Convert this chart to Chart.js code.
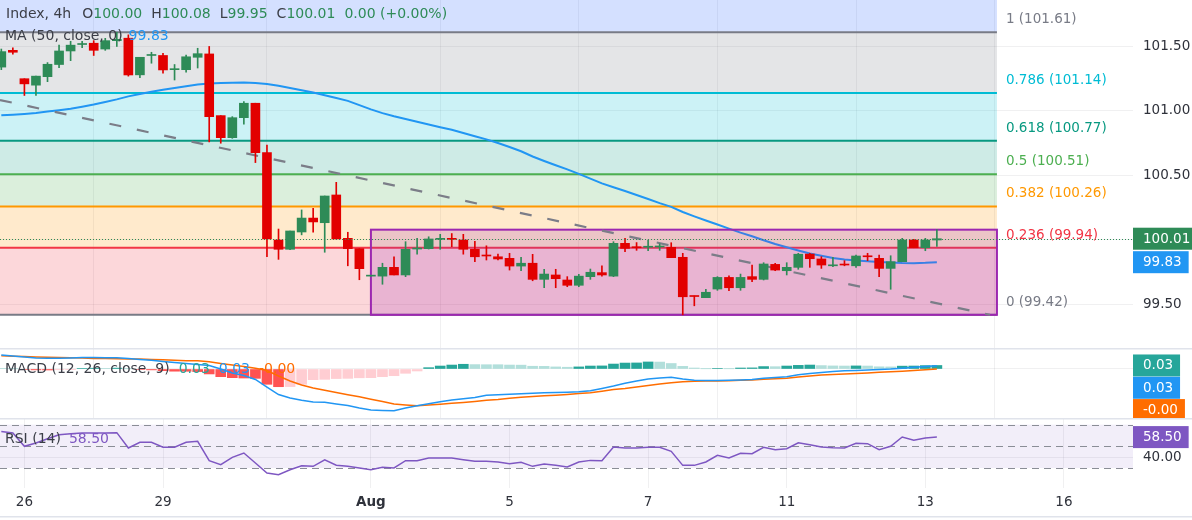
<!DOCTYPE html>
<html><head><meta charset="utf-8">
<script src="https://cdn.jsdelivr.net/npm/chart.js@4.4.1/dist/chart.umd.min.js"></script>
<style>
html,body{margin:0;padding:0;background:#fff;overflow:hidden;}
#wrap{position:relative;width:1192px;height:520px;background:#fff;}
canvas{position:absolute;left:0;}
</style></head><body>
<div id="wrap">
<canvas id="cPrice" width="1192" height="348" style="top:0;width:1192px;height:348px"></canvas>
<canvas id="cMacd" width="1192" height="70" style="top:348px;width:1192px;height:70px"></canvas>
<canvas id="cRsi" width="1192" height="102" style="top:418px;width:1192px;height:102px"></canvas>
</div>
<script>
// ---------------- DATA ----------------
const opens = [101.34,101.47,101.25,101.20,101.266,101.36,101.465,101.515,101.525,101.48,
101.545,101.564,101.28,101.43,101.43,101.32,101.32,101.416,101.442,100.964,
100.793,100.948,101.06,100.677,100.00,99.928,100.062,100.17,100.134,100.349,
100.013,99.933,99.72,99.72,99.788,99.729,99.93,99.933,100.005,100.01,
100.0,99.928,99.88,99.87,99.858,99.798,99.82,99.695,99.729,99.69,
99.649,99.716,99.747,99.72,99.974,99.945,99.944,99.946,99.943,99.866,
99.566,99.553,99.62,99.71,99.63,99.716,99.695,99.811,99.762,99.788,
99.891,99.853,99.80,99.808,99.80,99.873,99.858,99.78,99.832,100.0,
99.94,100.00];
const highs = [101.48,101.49,101.25,101.27,101.375,101.51,101.54,101.54,101.545,101.563,
101.61,101.59,101.416,101.455,101.447,101.36,101.434,101.486,101.50,100.964,
100.956,101.072,101.06,100.736,100.085,100.07,100.233,100.246,100.341,100.447,
100.06,99.933,99.722,99.82,99.87,99.987,100.013,100.025,100.044,100.05,
100.044,99.99,99.955,99.89,99.897,99.866,99.889,99.773,99.773,99.716,
99.734,99.775,99.80,99.987,100.013,99.98,100.0,99.97,99.979,99.897,
99.566,99.618,99.716,99.723,99.736,99.806,99.824,99.819,99.824,99.897,
99.897,99.871,99.866,99.84,99.884,99.897,99.884,99.878,100.013,100.005,
100.013,100.08];
const lows = [101.32,101.44,101.12,101.12,101.227,101.335,101.39,101.49,101.43,101.47,
101.50,101.27,101.258,101.37,101.292,101.24,101.30,101.333,100.76,100.75,
100.788,100.897,100.60,99.87,99.85,99.925,100.04,100.06,99.905,100.008,
99.80,99.692,99.72,99.657,99.729,99.716,99.89,99.93,99.928,99.948,
99.89,99.832,99.845,99.845,99.767,99.762,99.684,99.63,99.63,99.638,
99.638,99.695,99.72,99.716,99.91,99.92,99.917,99.92,99.863,99.42,
99.49,99.553,99.61,99.607,99.61,99.677,99.69,99.762,99.729,99.773,
99.788,99.78,99.793,99.80,99.788,99.84,99.716,99.618,99.832,99.94,
99.917,99.95];
const closes = [101.46,101.455,101.21,101.27,101.362,101.465,101.51,101.52,101.47,101.545,
101.555,101.279,101.416,101.435,101.318,101.325,101.42,101.444,100.956,100.793,
100.948,101.06,100.677,100.008,99.928,100.07,100.17,100.14,100.341,100.008,
99.933,99.778,99.722,99.788,99.729,99.928,99.935,100.008,100.008,100.005,
99.928,99.87,99.876,99.853,99.798,99.82,99.695,99.736,99.70,99.649,
99.72,99.75,99.729,99.974,99.935,99.94,99.95,99.949,99.863,99.56,
99.562,99.595,99.71,99.63,99.71,99.695,99.814,99.767,99.788,99.89,
99.855,99.806,99.803,99.806,99.876,99.87,99.78,99.832,100.0,99.94,
100.0,100.01];
const ma50 = [100.966,100.971,100.977,100.984,100.995,101.005,101.017,101.033,101.05,101.07,
101.09,101.113,101.132,101.149,101.164,101.178,101.192,101.205,101.212,101.217,
101.219,101.22,101.217,101.209,101.195,101.178,101.161,101.143,101.122,101.101,
101.078,101.045,101.012,100.983,100.959,100.938,100.917,100.895,100.874,100.854,
100.829,100.804,100.78,100.752,100.721,100.688,100.647,100.612,100.579,100.547,
100.512,100.476,100.439,100.409,100.38,100.349,100.318,100.286,100.257,100.217,
100.183,100.151,100.12,100.088,100.057,100.029,99.998,99.969,99.944,99.919,
99.896,99.878,99.86,99.849,99.842,99.836,99.83,99.826,99.822,99.82,
99.823,99.828];
const macdLine = [0.127,0.118,0.109,0.1,0.097,0.097,0.1,0.105,0.105,0.103,
0.103,0.095,0.086,0.079,0.068,0.059,0.05,0.041,0.032,0.0,
-0.036,-0.059,-0.095,-0.164,-0.232,-0.264,-0.285,-0.3,-0.303,-0.318,
-0.332,-0.355,-0.373,-0.377,-0.379,-0.355,-0.334,-0.315,-0.297,-0.282,
-0.271,-0.259,-0.239,-0.235,-0.229,-0.225,-0.22,-0.216,-0.214,-0.211,
-0.207,-0.198,-0.177,-0.155,-0.13,-0.109,-0.09,-0.082,-0.075,-0.091,
-0.103,-0.105,-0.105,-0.103,-0.1,-0.095,-0.085,-0.077,-0.07,-0.053,
-0.041,-0.032,-0.023,-0.016,-0.013,-0.009,-0.005,-0.001,0.007,0.015,
0.023,0.03];
const signalLine = [0.121,0.117,0.114,0.109,0.106,0.104,0.102,0.099,0.096,0.095,
0.093,0.092,0.09,0.086,0.083,0.08,0.076,0.074,0.065,0.05,
0.036,0.023,0.006,-0.014,-0.064,-0.109,-0.145,-0.173,-0.194,-0.214,
-0.234,-0.253,-0.275,-0.295,-0.318,-0.327,-0.334,-0.327,-0.32,-0.312,
-0.304,-0.295,-0.285,-0.277,-0.265,-0.256,-0.25,-0.244,-0.239,-0.232,
-0.223,-0.216,-0.202,-0.186,-0.177,-0.164,-0.15,-0.136,-0.125,-0.115,
-0.112,-0.11,-0.109,-0.106,-0.103,-0.1,-0.094,-0.088,-0.085,-0.073,
-0.064,-0.055,-0.05,-0.045,-0.041,-0.036,-0.03,-0.025,-0.02,-0.014,
-0.006,-0.001];
const macdHist = [0.006,0.002,-0.004,-0.008,-0.009,-0.007,-0.003,0.004,0.007,0.006,
0.008,0.002,-0.004,-0.008,-0.015,-0.02,-0.021,-0.024,-0.045,-0.07,
-0.079,-0.082,-0.085,-0.139,-0.161,-0.16,-0.139,-0.097,-0.094,-0.087,
-0.085,-0.08,-0.079,-0.07,-0.061,-0.039,-0.018,0.012,0.027,0.036,
0.043,0.04,0.039,0.039,0.036,0.035,0.025,0.024,0.019,0.016,
0.019,0.027,0.028,0.045,0.054,0.055,0.064,0.063,0.05,0.024,
0.009,0.002,0.004,0.002,0.009,0.01,0.022,0.021,0.027,0.033,
0.036,0.031,0.028,0.027,0.028,0.027,0.02,0.019,0.026,0.027,
0.031,0.032];
const rsi14 = [63.7,62.3,50.0,53.0,57.0,60.7,61.6,62.3,62.3,62.3,
62.6,48.4,53.7,53.7,49.1,49.1,53.7,54.6,36.7,33.0,
39.8,43.8,34.6,25.3,23.8,28.4,32.1,31.5,37.6,32.5,
31.5,30.0,28.4,30.6,30.0,36.7,36.7,39.2,39.2,39.2,
37.6,36.1,36.1,35.5,34.0,35.2,31.5,33.7,32.4,30.9,
35.5,37.0,36.7,49.4,48.4,48.4,49.1,49.1,45.4,32.4,
32.4,35.5,41.7,39.2,43.5,43.2,49.1,46.9,47.8,53.3,
51.5,49.4,48.7,48.4,52.8,52.4,46.9,50.0,58.6,55.5,
57.7,58.5];
const dayTickIdx = [2,14,32,44,56,68,80,92];
const dayTickLabels = ['26','29','Aug','5','7','11','13','16'];
const priceTicks = [101.5,101.0,100.5,100.0,99.5];
const rsiTicks = [40];
const rsiLevels = [70,50,30];
const fibRatios = [1.618,1,0.786,0.618,0.5,0.382,0.236,0];
const fibPrices = [102.96,101.61,101.14,100.77,100.51,100.26,99.94,99.42];
const headerText = 'Index, 4h';
const headerChange = '0.00 (+0.00%)';

// ---------------- DRAWING CONFIG ----------------
const FONT = "'DejaVu Sans', Verdana, sans-serif";
const xMin = -0.113, xMax = 97.98;
const fibFrom = -5, fibTo = 86.2;
const rectFrom = 32.0, rectTo = 86.2, rectHigh = 100.08, rectLow = 99.42;
const trendFrom = {x: -0.113, y: 101.085}, trendTo = {x: 85.6, y: 99.42};
const fibColors = ['#2962ff','#787b86','#00bcd4','#089981','#4caf50','#ff9800','#f23645','#787b86'];
const upColor = '#2e8b57', downColor = '#e20000';
const gridColor = 'rgba(42,46,57,0.07)';
const textColor = '#3b3e47';
const axisText = '#2f323b';

Chart.defaults.font.family = FONT;
Chart.defaults.font.size = 13.5;

const idx = opens.map((_, i) => i);
const candleColors = idx.map(i => closes[i] >= opens[i] ? upColor : downColor);
const histColors = macdHist.map((h, i) => {
  const p = i > 0 ? macdHist[i - 1] : h;
  if (h >= 0) return p < h ? '#26a69a' : '#b2dfdb';
  return p > h ? '#ff5252' : '#ffcdd2';
});

function hexA(hex, a) {
  const n = parseInt(hex.slice(1), 16);
  return `rgba(${(n >> 16) & 255},${(n >> 8) & 255},${n & 255},${a})`;
}
function clipArea(ctx, a) { ctx.beginPath(); ctx.rect(a.left, a.top, a.right - a.left, a.bottom - a.top); ctx.clip(); }
function drawSeq(ctx, x, y, parts) {
  parts.forEach(([t, c, g]) => { x += g || 0; ctx.fillStyle = c; ctx.fillText(t, x, y); x += ctx.measureText(t).width; });
}
function valueBox(ctx, x, yc, text, bg) {
  ctx.font = `13.5px ${FONT}`;
  const w = ctx.measureText(text).width + 17;
  ctx.fillStyle = bg; ctx.fillRect(x, yc - 11, w, 22);
  ctx.fillStyle = '#fff'; ctx.textBaseline = 'middle'; ctx.textAlign = 'left';
  ctx.fillText(text, x + 10, yc + 0.5);
}
function noPad(s) { s.paddingTop = 0; s.paddingBottom = 0; s.paddingLeft = 0; s.paddingRight = 0; }
const rightAxisFit = s => { s.width = 59; noPad(s); };
const xScaleHidden = {
  type: 'linear', min: xMin, max: xMax, offset: false,
  afterBuildTicks: s => { s.ticks = dayTickIdx.map(v => ({value: v})); },
  afterFit: s => { s.height = 0; noPad(s); },
  ticks: {display: false}, grid: {color: gridColor, drawTicks: false}, border: {display: false}
};
const baseOpts = {
  responsive: false, animation: false, events: [],
  layout: {padding: 0, autoPadding: false},
  plugins: {legend: {display: false}, tooltip: {enabled: false}}
};

// ---------------- PRICE PANE ----------------
const priceDecor = {
  id: 'priceDecor',
  beforeDatasetsDraw(chart) {
    const {ctx, chartArea: a, scales: {x, y}} = chart;
    ctx.save(); clipArea(ctx, a);
    const xa = x.getPixelForValue(fibFrom), xb = x.getPixelForValue(fibTo);
    for (let k = 0; k < fibPrices.length - 1; k++) {
      const y1 = y.getPixelForValue(fibPrices[k]), y2 = y.getPixelForValue(fibPrices[k + 1]);
      ctx.fillStyle = hexA(fibColors[k], 0.2);
      ctx.fillRect(xa, y1, xb - xa, y2 - y1);
    }
    ctx.lineWidth = 2;
    fibPrices.forEach((p, k) => {
      const yy = y.getPixelForValue(p);
      ctx.strokeStyle = fibColors[k];
      ctx.beginPath(); ctx.moveTo(xa, yy); ctx.lineTo(xb, yy); ctx.stroke();
    });
    ctx.restore();
  },
  afterDatasetDraw(chart, args) {
    if (chart.data.datasets[args.index].label !== 'MA 50') return;
    const {ctx, chartArea: a, scales: {x, y}} = chart;
    ctx.save(); clipArea(ctx, a);
    const rx1 = x.getPixelForValue(rectFrom), rx2 = x.getPixelForValue(rectTo);
    const ry1 = y.getPixelForValue(rectHigh), ry2 = y.getPixelForValue(rectLow);
    ctx.fillStyle = 'rgba(156,39,176,0.2)';
    ctx.fillRect(rx1, ry1, rx2 - rx1, ry2 - ry1);
    ctx.strokeStyle = '#9c27b0'; ctx.lineWidth = 2;
    ctx.strokeRect(rx1, ry1, rx2 - rx1, ry2 - ry1);
    ctx.strokeStyle = '#7b7d88'; ctx.lineWidth = 2.2; ctx.setLineDash([12, 16]);
    ctx.beginPath();
    ctx.moveTo(x.getPixelForValue(trendFrom.x), y.getPixelForValue(trendFrom.y));
    ctx.lineTo(x.getPixelForValue(trendTo.x), y.getPixelForValue(trendTo.y));
    ctx.stroke();
    ctx.restore();
  },
  afterDatasetsDraw(chart) {
    const {ctx, chartArea: a, scales: {y}} = chart;
    const last = closes.length - 1;
    const yy = Math.round(y.getPixelForValue(closes[last])) + 0.5;
    ctx.save();
    ctx.strokeStyle = candleColors[last]; ctx.lineWidth = 1; ctx.setLineDash([1, 2]);
    ctx.beginPath(); ctx.moveTo(a.left, yy); ctx.lineTo(a.right, yy); ctx.stroke();
    ctx.restore();
  },
  afterDraw(chart) {
    const {ctx, chartArea: a, scales: {x, y}} = chart;
    ctx.save();
    ctx.font = `13.5px ${FONT}`; ctx.textBaseline = 'middle'; ctx.textAlign = 'left';
    const lx = x.getPixelForValue(fibTo) + 9;
    fibPrices.forEach((p, k) => {
      ctx.fillStyle = fibColors[k];
      ctx.fillText(`${fibRatios[k]} (${p.toFixed(2)})`, lx, y.getPixelForValue(p) - 12.5);
    });
    const L = closes.length - 1;
    ctx.font = `14px ${FONT}`;
    drawSeq(ctx, 6, 14, [
      [headerText, textColor, 0], ['O', textColor, 11], [opens[L].toFixed(2), upColor, 0],
      ['H', textColor, 9], [highs[L].toFixed(2), upColor, 0],
      ['L', textColor, 9], [lows[L].toFixed(2), upColor, 0],
      ['C', textColor, 9], [closes[L].toFixed(2), upColor, 0],
      [headerChange, upColor, 9]
    ]);
    drawSeq(ctx, 5, 36, [['MA (50, close, 0)', textColor, 0], [ma50[L].toFixed(2), '#2196f3', 6]]);
    valueBox(ctx, a.right, y.getPixelForValue(closes[L]), closes[L].toFixed(2), upColor);
    valueBox(ctx, a.right, y.getPixelForValue(ma50[L]), ma50[L].toFixed(2), '#2196f3');
    ctx.restore();
  }
};

new Chart(document.getElementById('cPrice'), {
  type: 'bar',
  data: {datasets: [
    {type: 'bar', label: 'bodies', data: idx.map(i => ({x: i, y: [opens[i], closes[i]]})),
     backgroundColor: candleColors, barThickness: 9, minBarLength: 1, grouped: false, order: 1},
    {type: 'bar', label: 'wicks', data: idx.map(i => ({x: i, y: [lows[i], highs[i]]})),
     backgroundColor: candleColors, barThickness: 1, grouped: false, order: 2},
    {type: 'line', label: 'MA 50', data: idx.map(i => ({x: i, y: ma50[i]})),
     borderColor: '#2196f3', borderWidth: 2, pointRadius: 0, tension: 0, order: 3}
  ]},
  options: Object.assign({}, baseOpts, {
    scales: {
      x: xScaleHidden,
      y: {type: 'linear', position: 'right', min: 99.163, max: 101.86,
          afterBuildTicks: s => { s.ticks = priceTicks.map(v => ({value: v})); },
          afterFit: rightAxisFit,
          ticks: {padding: 10, color: axisText, font: {family: FONT, size: 13.5}, callback: v => v.toFixed(2)},
          grid: {color: gridColor, drawTicks: false}, border: {display: false}}
    }
  }),
  plugins: [priceDecor]
});

// ---------------- MACD PANE ----------------
const macdDecor = {
  id: 'macdDecor',
  afterDraw(chart) {
    const {ctx, chartArea: a, scales: {y}} = chart;
    ctx.save();
    ctx.fillStyle = '#e0e3eb'; ctx.fillRect(0, 0, 1192, 1.5);
    const L = macdHist.length - 1;
    ctx.font = `14px ${FONT}`; ctx.textBaseline = 'middle'; ctx.textAlign = 'left';
    drawSeq(ctx, 5, 21, [
      ['MACD (12, 26, close, 9)', textColor, 0],
      [macdHist[L].toFixed(2), '#26a69a', 9],
      [macdLine[L].toFixed(2), '#2196f3', 9],
      [signalLine[L].toFixed(2), '#ff6d00', 9]
    ]);
    const boxes = [[macdHist[L], '#26a69a'], [macdLine[L], '#2196f3'], [signalLine[L], '#ff6d00']];
    let prevBottom = -1e9;
    boxes.forEach(([v, c]) => {
      let yc = y.getPixelForValue(v);
      if (yc - 11 < prevBottom) yc = prevBottom + 11;
      valueBox(ctx, a.right, yc, v.toFixed(2), c);
      prevBottom = yc + 11.3;
    });
    ctx.restore();
  }
};
new Chart(document.getElementById('cMacd'), {
  type: 'bar',
  data: {datasets: [
    {type: 'line', label: 'MACD', data: idx.map(i => ({x: i, y: macdLine[i]})),
     borderColor: '#2196f3', borderWidth: 1.5, pointRadius: 0, order: 1},
    {type: 'line', label: 'Signal', data: idx.map(i => ({x: i, y: signalLine[i]})),
     borderColor: '#ff6d00', borderWidth: 1.5, pointRadius: 0, order: 2},
    {type: 'bar', label: 'Histogram', data: idx.map(i => ({x: i, y: macdHist[i]})),
     backgroundColor: histColors, barThickness: 10, grouped: false, order: 3}
  ]},
  options: Object.assign({}, baseOpts, {
    scales: {
      x: xScaleHidden,
      y: {type: 'linear', position: 'right', min: -0.4455, max: 0.1909,
          afterBuildTicks: s => { s.ticks = [{value: 0}]; },
          afterFit: rightAxisFit,
          ticks: {display: false}, grid: {color: gridColor, drawTicks: false}, border: {display: false}}
    }
  }),
  plugins: [macdDecor]
});

// ---------------- RSI PANE ----------------
const rsiDecor = {
  id: 'rsiDecor',
  beforeDatasetsDraw(chart) {
    const {ctx, chartArea: a, scales: {y}} = chart;
    ctx.save(); clipArea(ctx, a);
    const yTop = y.getPixelForValue(rsiLevels[0]), yBot = y.getPixelForValue(rsiLevels[2]);
    ctx.fillStyle = 'rgba(126,87,194,0.1)';
    ctx.fillRect(a.left, yTop, a.right - a.left, yBot - yTop);
    ctx.strokeStyle = '#8a8d96'; ctx.lineWidth = 1; ctx.setLineDash([7, 5]);
    rsiLevels.forEach(l => {
      const yy = Math.round(y.getPixelForValue(l)) + 0.5;
      ctx.beginPath(); ctx.moveTo(a.left, yy); ctx.lineTo(a.right, yy); ctx.stroke();
    });
    ctx.restore();
  },
  afterDraw(chart) {
    const {ctx, chartArea: a, scales: {y}} = chart;
    ctx.save();
    ctx.fillStyle = '#e0e3eb'; ctx.fillRect(0, 0, 1192, 1.5);
    ctx.fillRect(0, 98, 1192, 1.5);
    const L = rsi14.length - 1;
    ctx.font = `14px ${FONT}`; ctx.textBaseline = 'middle'; ctx.textAlign = 'left';
    drawSeq(ctx, 5, 21.5, [['RSI (14)', textColor, 0], [rsi14[L].toFixed(2), '#7e57c2', 8]]);
    valueBox(ctx, a.right, y.getPixelForValue(rsi14[L]), rsi14[L].toFixed(2), '#7e57c2');
    ctx.restore();
  }
};
new Chart(document.getElementById('cRsi'), {
  type: 'line',
  data: {datasets: [
    {label: 'RSI', data: idx.map(i => ({x: i, y: rsi14[i]})),
     borderColor: '#7e57c2', borderWidth: 1.5, pointRadius: 0, tension: 0}
  ]},
  options: Object.assign({}, baseOpts, {
    scales: {
      x: {type: 'linear', min: xMin, max: xMax, offset: false,
          afterBuildTicks: s => { s.ticks = dayTickIdx.map(v => ({value: v})); },
          afterFit: s => { s.height = 32; noPad(s); },
          ticks: {autoSkip: false, maxRotation: 0, padding: 6, color: axisText,
                  font: c => ({family: FONT, size: 13.5, weight: dayTickLabels[c.index] === 'Aug' ? 'bold' : 'normal'}),
                  callback: (v, i) => dayTickLabels[i]},
          grid: {color: gridColor, drawTicks: false}, border: {display: false}},
      y: {type: 'linear', position: 'right', min: 11.5, max: 76.13,
          afterBuildTicks: s => { s.ticks = rsiTicks.map(v => ({value: v})); },
          afterFit: rightAxisFit,
          ticks: {padding: 10, color: axisText, font: {family: FONT, size: 13.5}, callback: v => v.toFixed(2)},
          grid: {color: gridColor, drawTicks: false}, border: {display: false}}
    }
  }),
  plugins: [rsiDecor]
});
</script>
</body></html>
